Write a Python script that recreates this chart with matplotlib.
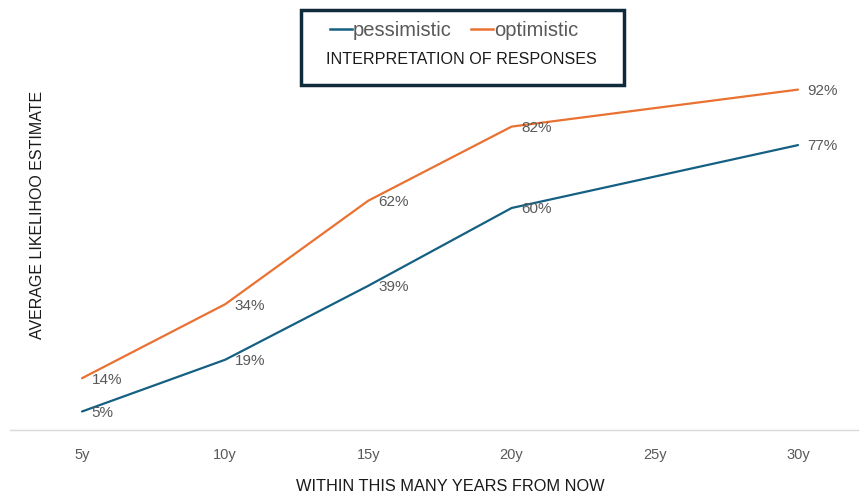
import matplotlib.pyplot as plt
from matplotlib.patches import Rectangle
from matplotlib.lines import Line2D

plt.rcParams['font.family'] = ['Liberation Sans', 'DejaVu Sans']

# data
years = ["5y", "10y", "15y", "20y", "25y", "30y"]
pessimistic = [5, 19, 39, 60, None, 77]
optimistic = [14, 34, 62, 82, None, 92]

BLUE = "#156082"
ORANGE = "#E97132"
GRAY = "#595959"

fig = plt.figure(figsize=(8.6, 4.94), dpi=100)
# axes: px 10..858 horizontally, 60..430 vertically
ax = fig.add_axes([10 / 860, 64 / 494, 848 / 860, 370 / 494])

for vals, col in [(pessimistic, BLUE), (optimistic, ORANGE)]:
    xs = [i for i, v in enumerate(vals) if v is not None]
    ys = [v for v in vals if v is not None]
    ax.plot(xs, ys, color=col, lw=1.6, solid_capstyle="round")
    for x, y in zip(xs, ys):
        ax.annotate(f"{y}%", (x, y), xytext=(7, -1), textcoords="offset points",
                    ha="left", va="center", fontsize=11, color=GRAY)

ax.set_xlim(-0.503, 5.419)
ax.set_ylim(0, 100)
ax.set_xticks(range(len(years)))
ax.set_xticklabels(years, fontsize=10.5, color=GRAY)
ax.tick_params(axis="x", length=0, pad=13)
ax.set_yticks([])
for s in ["top", "right", "left"]:
    ax.spines[s].set_visible(False)
ax.spines["bottom"].set_color("#d9d9d9")
ax.spines["bottom"].set_linewidth(1)

# axis titles
fig.text(450 / 860, 1 - 486 / 494, "WITHIN THIS MANY YEARS FROM NOW",
         ha="center", va="center", fontsize=11.8, color="#1a1a1a")
fig.text(38 / 860, 1 - 215 / 494, "AVERAGE LIKELIHOO ESTIMATE", rotation=90,
         ha="center", va="center", fontsize=11.5, color="#1a1a1a")

# legend box with title below entries
fig.patches.append(Rectangle((301 / 860, 1 - 85 / 494), 323 / 860, 75 / 494,
                             transform=fig.transFigure, facecolor="white",
                             edgecolor="#0e2a3b", lw=2.5, zorder=5))
handles = [Line2D([], [], color=BLUE, lw=1.8), Line2D([], [], color=ORANGE, lw=1.8)]
leg = fig.legend(handles, ["pessimistic", "optimistic"], loc="center",
                 bbox_to_anchor=(454 / 860, 1 - 31 / 494), ncol=2, frameon=False,
                 fontsize=14.5, handlelength=1.1, handletextpad=0.05, columnspacing=0.95,
                 labelcolor=GRAY)
leg.set_zorder(6)
fig.text(461 / 860, 1 - 60 / 494, "INTERPRETATION OF RESPONSES", ha="center",
         va="center", fontsize=11.6, color="#1a1a1a", zorder=6)

fig.savefig("out.png", dpi=100)
